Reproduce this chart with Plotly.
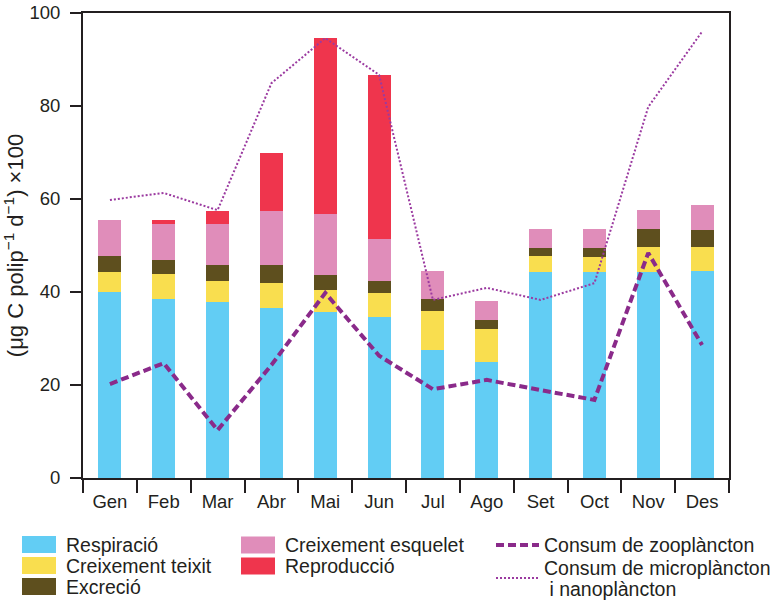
import plotly.graph_objects as go

months = ["Gen", "Feb", "Mar", "Abr", "Mai", "Jun", "Jul", "Ago", "Set", "Oct", "Nov", "Des"]

respiracio = [40.0, 38.6, 37.9, 36.6, 35.7, 34.6, 27.6, 24.9, 44.4, 44.4, 44.4, 44.5]
creix_teixit = [4.3, 5.3, 4.5, 5.3, 4.7, 5.2, 8.3, 7.1, 3.3, 3.1, 5.3, 5.2]
excrecio = [3.4, 3.0, 3.4, 3.9, 3.3, 2.6, 2.6, 2.0, 1.8, 2.0, 3.8, 3.6]
creix_esquelet = [7.8, 7.7, 8.8, 11.6, 13.1, 9.0, 6.0, 4.1, 4.0, 4.0, 4.1, 5.4]
reproduccio = [0.0, 0.9, 2.8, 12.5, 37.8, 35.3, 0.0, 0.0, 0.0, 0.0, 0.0, 0.0]

zooplancton = [20.2, 24.7, 10.3, 24.3, 39.8, 26.3, 19.1, 21.1, 18.9, 16.8, 48.4, 28.6]
microplancton = [59.8, 61.3, 57.6, 84.9, 94.6, 86.7, 38.3, 40.9, 38.3, 41.9, 79.8, 96.0]

y_ticks = [0, 20, 40, 60, 80, 100]

FONT = "Liberation Sans, Arial, Helvetica, sans-serif"
TXT = "#231f20"

W, H = 779, 601
L, R, T, B = 83, 50, 13, 123
PW, PH = W - L - R, H - T - B


def px(xs):
    return (xs - L) / PW


def py(ys):
    return (H - B - ys) / PH


bar_series = [
    ("Respiració", respiracio, "#62cdf4"),
    ("Creixement teixit", creix_teixit, "#f9de4f"),
    ("Excreció", excrecio, "#5e4f1e"),
    ("Creixement esquelet", creix_esquelet, "#e08dba"),
    ("Reproducció", reproduccio, "#ef354d"),
]
line_series = [
    (["Consum de zooplàncton"], zooplancton, "#8a2a8a", 4, "8px,4px"),
    (["Consum de microplàncton", " i nanoplàncton"], microplancton, "#9b3aa0", 2, "2px,2px"),
]

fig = go.Figure()
for name, vals, col in bar_series:
    fig.add_trace(go.Bar(x=months, y=vals, name=name, showlegend=False,
                         marker=dict(color=col, line=dict(width=0))))
for names, vals, col, w, dash in line_series:
    fig.add_trace(go.Scatter(x=months, y=vals, mode="lines", name=" ".join(names),
                             showlegend=False, line=dict(color=col, width=w, dash=dash)))

# custom legend (three columns, like the reference)
shapes = []
annotations = []
LFONT = dict(family=FONT, size=19.5, color=TXT)
bar_slots = [(22, 544.5), (22, 565.5), (22, 586.5), (241, 545), (241, 566)]
for (name, vals, col), (sx, sy) in zip(bar_series, bar_slots):
    shapes.append(dict(type="rect", xref="paper", yref="paper", x0=px(sx), x1=px(sx + 34),
                       y0=py(sy - 8.5), y1=py(sy + 8.5), fillcolor=col, line=dict(width=0)))
    annotations.append(dict(xref="paper", yref="paper", x=px(sx + 42), y=py(sy), text=name,
                            showarrow=False, xanchor="left", yanchor="middle", font=LFONT))
line_slots = [(496, 545, [545]), (496, 578, [568, 589])]
for (names, vals, col, w, dash), (sx, sy, tys) in zip(line_series, line_slots):
    shapes.append(dict(type="line", xref="paper", yref="paper", x0=px(sx), x1=px(sx + 43),
                       y0=py(sy), y1=py(sy), line=dict(color=col, width=w, dash=dash)))
    for name, ty in zip(names, tys):
        annotations.append(dict(xref="paper", yref="paper", x=px(sx + 46), y=py(ty), text=name,
                                showarrow=False, xanchor="left", yanchor="middle",
                                font=LFONT))

fig.update_layout(
    width=W, height=H,
    margin=dict(l=L, r=R, t=T, b=B, autoexpand=False),
    paper_bgcolor="white", plot_bgcolor="white",
    barmode="stack", bargap=0.57,
    font=dict(family=FONT, color=TXT),
    showlegend=False,
    shapes=shapes,
    annotations=annotations,
    xaxis=dict(type="category", showline=True, linecolor=TXT, linewidth=2, mirror=True,
               ticks="outside", ticklen=13, tickwidth=2, tickcolor=TXT, tickson="boundaries",
               ticklabelstandoff=6, automargin=False,
               tickfont=dict(family=FONT, size=18.5, color=TXT), showgrid=False, zeroline=False),
    yaxis=dict(range=[0, 100], tickvals=y_ticks, showline=True, linecolor=TXT,
               linewidth=2, mirror=True, ticks="outside", ticklen=11, tickwidth=2, tickcolor=TXT,
               ticklabelstandoff=6, automargin=False,
               tickfont=dict(family=FONT, size=18.5, color=TXT), showgrid=False, zeroline=False,
               title=dict(text="(μg C polip<sup>−1</sup> d<sup>−1</sup>) ×100",
                          font=dict(family=FONT, size=22, color=TXT), standoff=3)),
)

fig.write_html("out.html", config={"displayModeBar": False},
               post_script="document.body.style.margin='0';")
